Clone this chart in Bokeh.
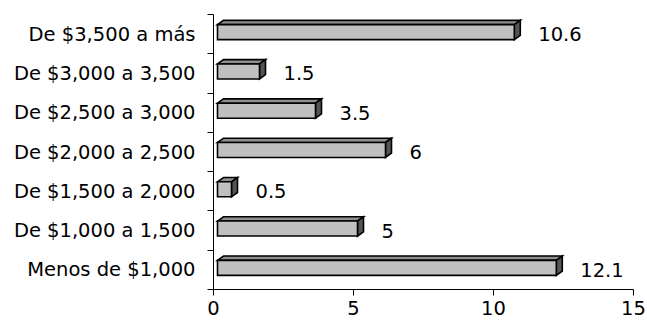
import numpy as np
from bokeh.plotting import figure
from bokeh.models import FixedTicker, Range1d
from bokeh.embed import file_html
from bokeh.resources import INLINE
from bokeh.core.properties import value

# ---- data (bottom to top) ----
categories = ["Menos de $1,000", "De $1,000 a 1,500", "De $1,500 a 2,000",
              "De $2,000 a 2,500", "De $2,500 a 3,000", "De $3,000 a 3,500",
              "De $3,500 a más"]
values = [12.1, 5, 0.5, 6, 3.5, 1.5, 10.6]
value_labels = ["12.1", "5", "0.5", "6", "3.5", "1.5", "10.6"]
x_ticks = [0, 5, 10, 15]

# ---- layout ----
W, H = 647, 323
B_LEFT, B_RIGHT, B_TOP, B_BOTTOM = 213, 14, 14, 34
FONT = "DejaVu Sans"
FSIZE = "19.5px"

n = len(categories)
p = figure(width=W, height=H, output_backend="svg", toolbar_location=None,
           x_range=Range1d(0, 15), y_range=Range1d(0, n),
           min_border_left=B_LEFT, min_border_right=B_RIGHT,
           min_border_top=B_TOP, min_border_bottom=B_BOTTOM)
p.outline_line_color = None
p.xgrid.visible = False
p.ygrid.visible = False
p.background_fill_color = "white"
p.border_fill_color = "white"

frame_w = W - B_LEFT - B_RIGHT
frame_h = H - B_TOP - B_BOTTOM
ux = 15 / frame_w
uy = n / frame_h

# 3D bar geometry (pixel sizes converted to data units)
x0 = 4 * ux
dx = 6 * ux
dy = 4.3 * uy
half = 7.5 * uy
shift = 2 * uy

centers = np.arange(n) + 0.5
vals = np.array(values, dtype=float)
fb = centers + shift - half
ft = centers + shift + half
fr = vals + x0

top_xs = [[x0, x0 + dx, r + dx, r] for r in fr]
top_ys = [[t, t + dy, t + dy, t] for t in ft]
side_xs = [[r, r, r + dx, r + dx] for r in fr]
side_ys = [[b, t, t + dy, b + dy] for b, t in zip(fb, ft)]

line_kw = dict(line_color="black", line_width=1.6, line_join="miter")
p.patches(top_xs, top_ys, fill_color="#8f8f8f", **line_kw)
p.patches(side_xs, side_ys, fill_color="#555555", **line_kw)
p.quad(left=[x0] * n, right=fr, bottom=fb, top=ft, fill_color="#c0c0c0", **line_kw)

# value labels
p.text(x=fr + dx + 18 * ux, y=centers, text=value_labels,
       text_font=value(FONT), text_font_size=FSIZE,
       text_baseline="middle", text_align="left", text_color="black")

# x axis
xa = p.xaxis[0]
xa.ticker = FixedTicker(ticks=x_ticks)
xa.major_tick_out = 6
xa.major_tick_in = 0
xa.minor_tick_out = 0
xa.minor_tick_in = 0
xa.major_label_standoff = 5
xa.axis_line_color = "black"
xa.major_tick_line_color = "black"
xa.major_label_text_font = FONT
xa.major_label_text_font_size = FSIZE
xa.major_label_text_color = "black"

# y axis: labels at band centers, tick marks at band boundaries
ya = p.yaxis[0]
ya.ticker = FixedTicker(ticks=list(centers), minor_ticks=list(range(n + 1)))
ya.major_label_overrides = {float(c): lab for c, lab in zip(centers, categories)}
ya.major_tick_out = 0
ya.major_tick_in = 0
ya.minor_tick_out = 6
ya.minor_tick_in = 0
ya.minor_tick_line_color = "black"
ya.major_label_standoff = 12
ya.axis_line_color = "black"
ya.major_label_text_font = FONT
ya.major_label_text_font_size = FSIZE
ya.major_label_text_color = "black"

open("out.html", "w").write(file_html(p, INLINE))
